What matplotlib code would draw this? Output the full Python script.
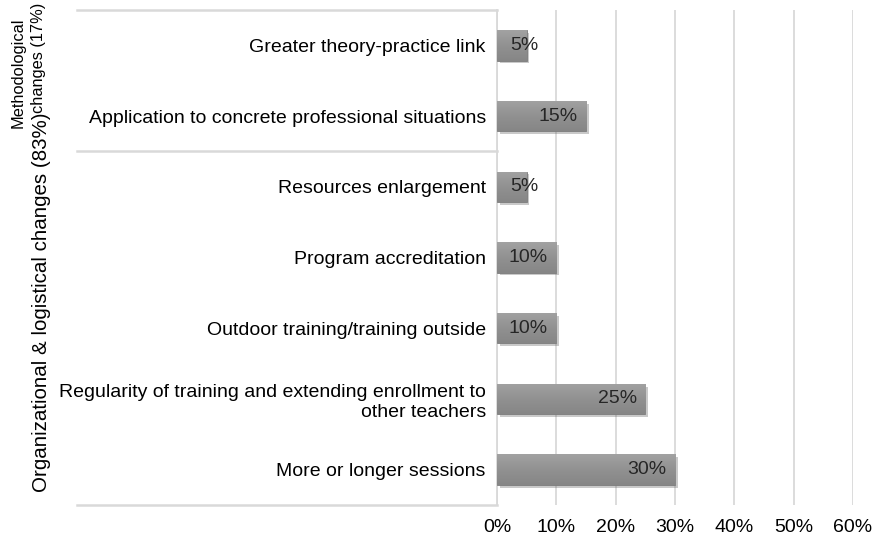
import numpy as np
import matplotlib.pyplot as plt
import matplotlib.patheffects as pe
from matplotlib.colors import LinearSegmentedColormap
from matplotlib.transforms import blended_transform_factory

plt.rcParams["font.family"] = ["Liberation Sans", "DejaVu Sans"]

categories = [
    "Greater theory-practice link",
    "Application to concrete professional situations",
    "Resources enlargement",
    "Program accreditation",
    "Outdoor training/training outside",
    "Regularity of training and extending enrollment to\nother teachers",
    "More or longer sessions",
]
values = [5, 15, 5, 10, 10, 25, 30]
ticks = [0, 10, 20, 30, 40, 50, 60]

GRID = "#d9d9d9"
BAR = "#909090"
grad = LinearSegmentedColormap.from_list("bar", ["#868686", "#919191", "#a2a2a2"])

fig = plt.figure(figsize=(8.78, 5.43), dpi=100)
ax = fig.add_axes([0.566, 0.07, 0.4055, 0.9115])

y = list(range(len(categories)))
bars = ax.barh(y, values, height=0.43, color=BAR, edgecolor="#7c7c7c", linewidth=0.6,
               zorder=3)
for b in bars:
    b.set_path_effects([pe.SimplePatchShadow(offset=(2, -2), shadow_rgbFace="#666666",
                                             alpha=0.35), pe.Normal()])
    # soft vertical shading like the original
    x0, y0, w, h = b.get_x(), b.get_y(), b.get_width(), b.get_height()
    im = ax.imshow(np.linspace(0, 1, 64).reshape(-1, 1), cmap=grad, aspect="auto",
                   extent=(x0, x0 + w, y0 + h, y0), origin="lower", zorder=3.1)
    im.set_clip_path(b)

for yi, v in zip(y, values):
    if v <= 5:
        # short bars: label starts near the axis and spills past the bar end
        ax.annotate(f"{v}%", xy=(0, yi), xytext=(9.4, 0), textcoords="offset points",
                    ha="left", va="center", fontsize=14, color="#262626", zorder=4)
    else:
        ax.annotate(f"{v}%", xy=(v, yi), xytext=(-6, 0), textcoords="offset points",
                    ha="right", va="center", fontsize=14, color="#262626", zorder=4)

ax.set_xlim(0, 60)
ax.set_ylim(len(categories) - 0.5, -0.5)
ax.set_xticks(ticks)
ax.set_xticklabels([f"{t}%" for t in ticks], fontsize=14)
ax.set_yticks(y)
ax.set_yticklabels(categories, fontsize=14)
ax.tick_params(axis="y", length=0, pad=8)
ax.tick_params(axis="x", length=0, pad=10)
ax.xaxis.grid(True, color=GRID, linewidth=1.3, zorder=0)
for s in ["top", "right", "bottom"]:
    ax.spines[s].set_visible(False)
ax.spines["left"].set_color(GRID)
ax.spines["left"].set_linewidth(1.3)

# group separators in the label area
trans = blended_transform_factory(ax.transAxes, ax.transData)
for yy in [-0.5, 1.5, len(categories) - 0.5]:
    ax.plot([-1.18, 0], [yy, yy], color=GRID, linewidth=1.8, transform=trans,
            clip_on=False, zorder=1)

# rotated group labels
fig.text(18 / 878, 1 - 128 / 543, "Methodological", rotation=90, ha="center",
         va="bottom", fontsize=11.8)
fig.text(39 / 878, 1 - 113 / 543, "changes (17%)", rotation=90, ha="center",
         va="bottom", fontsize=11.8)
fig.text(42 / 878, 1 - 492 / 543, "Organizational & logistical changes (83%)",
         rotation=90, ha="center", va="bottom", fontsize=14.8)

fig.savefig("out.png", dpi=100, facecolor="white")
